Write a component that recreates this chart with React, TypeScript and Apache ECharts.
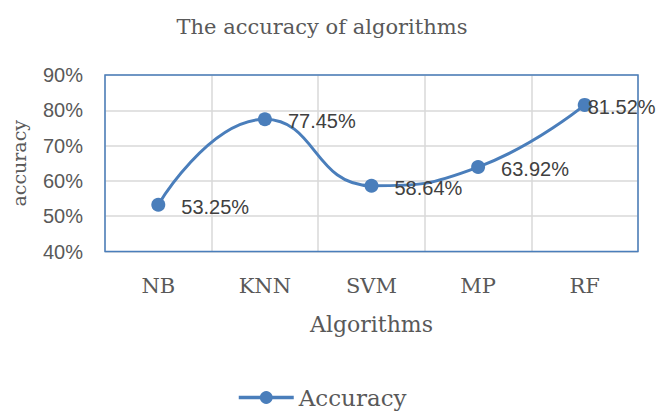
import React, { useEffect, useRef } from "react";
import * as echarts from "echarts";

const categories = ["NB", "KNN", "SVM", "MP", "RF"];
const accuracy = [53.25, 77.45, 58.64, 63.92, 81.52];
const yMin = 40;
const yMax = 90;
const yStep = 10;

const SERIF = "'DejaVu Serif', serif";
const SANS = "'Liberation Sans', Arial, sans-serif";
const BLUE = "#4a7ebb";

export default function App() {
  const ref = useRef<HTMLDivElement>(null);
  useEffect(() => {
    if (!ref.current) return;
    const chart = echarts.init(ref.current, undefined, { renderer: "svg" });
    const lastIdx = accuracy.length - 1;
    const seriesData = accuracy.map((v, i) =>
      i === lastIdx ? { value: v, label: { distance: -4 } } : { value: v }
    );
    chart.setOption({
      animation: false,
      backgroundColor: "#ffffff",
      title: {
        text: "The accuracy of algorithms",
        left: 317,
        top: 11,
        textAlign: "center",
        textStyle: { fontFamily: SERIF, fontSize: 21, fontWeight: "normal", color: "#595959" },
      },
      legend: {
        data: ["Accuracy"],
        left: 232,
        top: 381,
        itemWidth: 55,
        itemHeight: 16,
        lineStyle: { width: 3.5, color: BLUE },
        itemStyle: { color: BLUE },
        textStyle: { fontFamily: SERIF, fontSize: 23, color: "#595959" },
      },
      grid: {
        left: 105,
        right: 21,
        top: 75,
        bottom: 160.5,
        show: true,
        z: 1,
        borderColor: BLUE,
        borderWidth: 1.5,
        backgroundColor: "transparent",
      },
      xAxis: {
        type: "category",
        data: categories,
        boundaryGap: true,
        name: "Algorithms",
        nameLocation: "middle",
        nameGap: 62,
        nameTextStyle: { fontFamily: SERIF, fontSize: 22, color: "#595959" },
        axisLine: { show: false },
        axisTick: { show: false },
        axisLabel: { fontFamily: SERIF, fontSize: 21, color: "#595959", margin: 24 },
        splitLine: { show: true, lineStyle: { color: "#d9d9d9", width: 1.5 } },
      },
      yAxis: {
        type: "value",
        min: yMin,
        max: yMax,
        interval: yStep,
        name: "accuracy",
        nameLocation: "middle",
        nameGap: 77,
        nameRotate: 90,
        nameTextStyle: { fontFamily: SERIF, fontSize: 19, color: "#595959" },
        axisLine: { show: false },
        axisTick: { show: false },
        axisLabel: {
          fontFamily: SANS,
          fontSize: 20,
          color: "#595959",
          margin: 22,
          formatter: (v: number) => `${v}%`,
        },
        splitLine: { show: true, lineStyle: { color: "#d9d9d9", width: 1.5 } },
      },
      series: [
        {
          name: "Accuracy",
          type: "line",
          z: 3,
          data: seriesData,
          smooth: 0.5,
          symbol: "circle",
          symbolSize: 14,
          lineStyle: { color: BLUE, width: 3 },
          itemStyle: { color: BLUE },
          label: {
            show: true,
            position: "right",
            distance: 16,
            offset: [0, 2],
            fontFamily: SANS,
            fontSize: 20,
            color: "#404040",
            formatter: (p: any) => `${Number(p.value).toFixed(2)}%`,
          },
        },
      ],
    });
    return () => chart.dispose();
  }, []);
  return (
    <div
      ref={ref}
      style={{ position: "fixed", left: 0, top: 0, width: 659, height: 412, background: "#fff" }}
    />
  );
}
